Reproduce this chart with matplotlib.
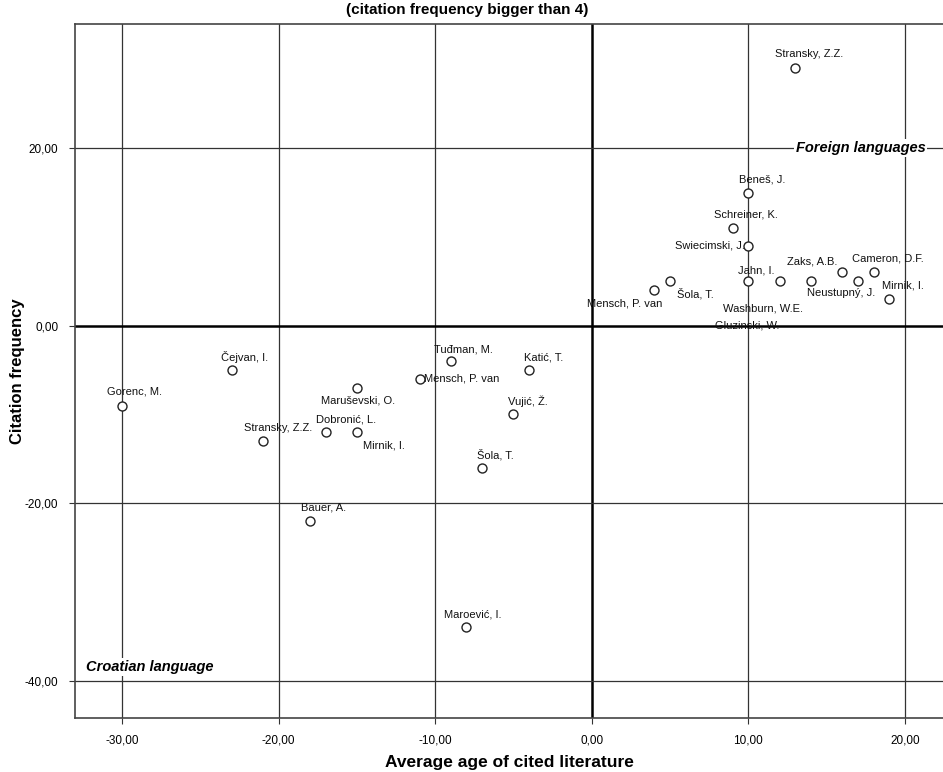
import matplotlib
matplotlib.use("Agg")
import matplotlib.pyplot as plt

# data
names = ["Stransky, Z.Z.", "Beneš, J.", "Schreiner, K.", "Swiecimski, J.", "Jahn, I.",
         "Washburn, W.E.", "Gluzinski, W.", "Zaks, A.B.", "Neustupný, J.", "Cameron, D.F.",
         "Mirnik, I.", "Mensch, P. van", "Šola, T.",
         "Gorenc, M.", "Čejvan, I.", "Stransky, Z.Z.", "Dobronić, L.", "Mirnik, I.",
         "Maruševski, O.", "Bauer, A.", "Tuđman, M.", "Mensch, P. van", "Katić, T.",
         "Vujić, Ž.", "Šola, T.", "Maroević, I."]
age = [13, 10, 9, 10, 10, 12, 14, 16, 17, 18, 19, 4, 5,
       -30, -23, -21, -17, -15, -15, -18, -9, -11, -4, -5, -7, -8]
freq = [29, 15, 11, 9, 5, 5, 5, 6, 5, 6, 3, 4, 5,
        -9, -5, -13, -12, -12, -7, -22, -4, -6, -5, -10, -16, -34]

# label offsets in pixels (dx right, dy up), alignment
lab_pos = [(14, 14, "center"), (14, 13, "center"), (13, 14, "center"), (-4, 0, "right"),
           (8, 11, "center"), (-17, -27, "center"), (-64, -44, "center"), (-30, 11, "center"),
           (-17, -12, "center"), (14, 14, "center"), (14, 14, "center"), (-30, -13, "center"),
           (25, -12, "center"),
           (13, 14, "center"), (13, 13, "center"), (15, 13, "center"), (21, 13, "center"),
           (27, -13, "center"), (1, -13, "center"), (14, 13, "center"), (13, 12, "center"),
           (4, 0, "left"), (14, 13, "center"), (14, 13, "center"), (13, 13, "center"),
           (6, 13, "center")]

xticks = [-30, -20, -10, 0, 10, 20]
yticks = [-40, -20, 0, 20]

plt.rcParams["font.family"] = ["Liberation Sans", "DejaVu Sans"]

W, H = 943, 772
fig = plt.figure(figsize=(W / 100, H / 100), dpi=100)
ax = fig.add_axes([75 / W, 1 - 718 / H, 0.92, 694 / H])
ax.set_xlim(-33, 22.4)
ax.set_ylim(-44.2, 34)

for v in xticks:
    if v == 0:
        ax.axvline(v, color="black", lw=1.8, zorder=1)
    else:
        ax.axvline(v, color="#333333", lw=0.9, zorder=1)
for v in yticks:
    if v == 0:
        ax.axhline(v, color="black", lw=1.8, zorder=1)
    else:
        ax.axhline(v, color="#333333", lw=0.9, zorder=1)

ax.scatter(age, freq, s=42, facecolors="white", edgecolors="#222222", linewidths=1.0, zorder=3)

k = 0.72  # px -> points
for n, x, y, (dx, dy, ha) in zip(names, age, freq, lab_pos):
    ax.annotate(n, (x, y), xytext=(dx * k, dy * k), textcoords="offset points",
                ha=ha, va="center", fontsize=8, color="#111111", zorder=4)

ax.text(21.3, 19.2, "Foreign languages", ha="right", va="bottom", fontsize=10.5,
        fontweight="bold", style="italic", zorder=2,
        bbox=dict(facecolor="white", edgecolor="none", pad=1.5))
ax.text(-32.3, -39.2, "Croatian language", ha="left", va="bottom", fontsize=10.5,
        fontweight="bold", style="italic", zorder=2,
        bbox=dict(facecolor="white", edgecolor="none", pad=1.5))

ax.set_xticks(xticks)
ax.set_yticks(yticks)
ax.set_xticklabels([f"{v:.2f}".replace(".", ",") for v in xticks], fontsize=8.5)
ax.set_yticklabels([f"{v:.2f}".replace(".", ",") for v in yticks], fontsize=8.5)
ax.tick_params(direction="out", length=4, width=0.8, color="#333333", pad=8)

for s in ax.spines.values():
    s.set_color("#444444")
    s.set_linewidth(1.2)
ax.spines["right"].set_visible(False)

fig.text(509 / W, 1 - 762 / H, "Average age of cited literature", ha="center", va="center",
         fontsize=12.5, fontweight="bold")
fig.text(18 / W, 1 - 371 / H, "Citation frequency", ha="center", va="center",
         rotation=90, fontsize=12, fontweight="bold")
fig.text(467 / W, 1 - 10 / H, "(citation frequency bigger than 4)", ha="center", va="center",
         fontsize=11, fontweight="bold")

fig.savefig("out.png", dpi=100)
